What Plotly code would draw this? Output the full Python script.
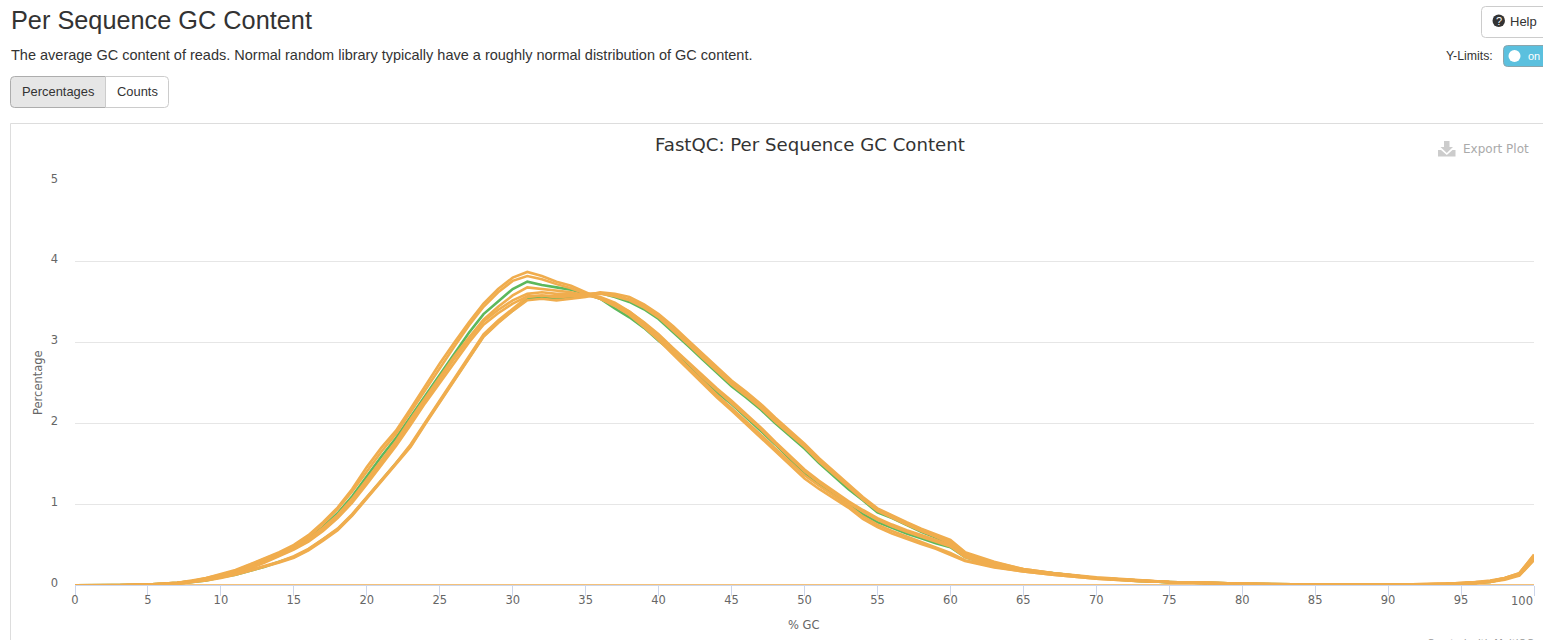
import plotly.graph_objects as go

GC = [0,3,5,7,8,9,10,11,12,13,14,15,16,17,18,19,20,21,22,23,24,25,26,27,28,29,30,31,32,33,34,35,36,37,38,39,40,41,42,43,44,45,46,47,48,49,50,51,52,53,54,55,56,57,58,59,60,61,62,63,65,67,70,73,75,78,80,85,90,92,94,95,96,97,98,99,100]

A1 = [0,0,.01,.03,.06,.09,.14,.19,.26,.33,.41,.50,.62,.78,.96,1.19,1.46,1.70,1.91,2.18,2.46,2.74,3.00,3.25,3.48,3.66,3.80,3.87,3.82,3.75,3.70,3.62,3.54,3.45,3.34,3.19,3.03,2.85,2.67,2.49,2.32,2.16,1.99,1.82,1.65,1.48,1.32,1.19,1.08,.96,.82,.72,.64,.57,.51,.45,.38,.30,.26,.22,.17,.13,.08,.05,.04,.02,.015,.005,.005,.01,.015,.02,.03,.04,.07,.12,.31]
A2 = [0,0,.01,.03,.05,.09,.13,.18,.25,.32,.40,.48,.60,.76,.94,1.16,1.41,1.65,1.87,2.14,2.41,2.69,2.95,3.21,3.44,3.62,3.76,3.82,3.78,3.72,3.67,3.60,3.54,3.46,3.36,3.21,3.05,2.88,2.70,2.52,2.35,2.19,2.03,1.86,1.69,1.52,1.36,1.23,1.11,.99,.85,.75,.67,.60,.54,.47,.40,.31,.27,.23,.17,.13,.08,.05,.04,.02,.015,.005,.005,.01,.015,.02,.03,.04,.08,.13,.33]
B1 = [0,0,.01,.03,.05,.08,.12,.17,.23,.30,.38,.46,.57,.71,.87,1.07,1.31,1.55,1.78,2.05,2.31,2.58,2.83,3.06,3.28,3.44,3.58,3.68,3.66,3.64,3.62,3.58,3.55,3.47,3.38,3.25,3.10,2.93,2.76,2.59,2.43,2.28,2.12,1.95,1.77,1.60,1.43,1.29,1.16,1.04,.93,.83,.75,.68,.62,.56,.50,.36,.30,.25,.19,.14,.09,.06,.04,.025,.02,.005,.005,.01,.02,.025,.03,.05,.08,.14,.35]
B2 = [0,0,.01,.02,.05,.08,.11,.16,.22,.29,.37,.45,.56,.69,.85,1.05,1.28,1.52,1.75,2.01,2.28,2.54,2.80,3.04,3.26,3.40,3.52,3.60,3.62,3.60,3.60,3.59,3.56,3.49,3.38,3.24,3.08,2.92,2.75,2.57,2.41,2.26,2.10,1.93,1.75,1.58,1.41,1.27,1.14,1.02,.91,.81,.73,.66,.60,.54,.48,.35,.29,.25,.18,.14,.09,.06,.04,.025,.02,.005,.005,.01,.015,.025,.03,.05,.09,.14,.34]
B3 = [0,0,.01,.02,.05,.07,.11,.15,.21,.28,.36,.44,.54,.67,.83,1.02,1.25,1.49,1.72,1.98,2.25,2.50,2.75,3.00,3.22,3.36,3.48,3.57,3.58,3.57,3.58,3.60,3.61,3.58,3.53,3.45,3.33,3.17,3.00,2.83,2.67,2.50,2.36,2.21,2.04,1.88,1.73,1.55,1.39,1.22,1.07,.94,.86,.77,.69,.62,.54,.40,.34,.28,.20,.15,.09,.06,.04,.03,.02,.01,.005,.01,.02,.03,.04,.05,.09,.15,.37]
C1 = [0,0,.005,.02,.04,.06,.09,.13,.18,.23,.28,.34,.43,.55,.68,.86,1.07,1.29,1.49,1.71,1.99,2.26,2.53,2.80,3.07,3.24,3.39,3.52,3.54,3.52,3.54,3.56,3.60,3.57,3.52,3.43,3.31,3.15,2.98,2.81,2.65,2.48,2.34,2.19,2.02,1.86,1.71,1.53,1.37,1.21,1.06,.92,.84,.75,.67,.60,.52,.38,.32,.27,.19,.15,.09,.06,.035,.03,.02,.01,.005,.01,.015,.02,.03,.05,.08,.13,.32]
C2 = [0,0,.005,.02,.04,.07,.10,.14,.19,.24,.29,.36,.45,.57,.70,.88,1.09,1.31,1.51,1.74,2.01,2.29,2.56,2.83,3.10,3.27,3.42,3.56,3.58,3.56,3.57,3.58,3.62,3.60,3.56,3.47,3.35,3.20,3.03,2.86,2.69,2.53,2.39,2.24,2.07,1.91,1.75,1.57,1.41,1.25,1.09,.95,.87,.78,.70,.63,.56,.41,.35,.29,.20,.15,.10,.06,.04,.03,.02,.01,.005,.01,.02,.03,.04,.06,.09,.15,.38]
G1 = [0,0,.01,.03,.05,.08,.12,.17,.24,.31,.39,.47,.58,.72,.89,1.10,1.35,1.59,1.82,2.08,2.34,2.60,2.86,3.12,3.35,3.51,3.66,3.75,3.71,3.68,3.65,3.60,3.54,3.42,3.31,3.18,3.02,2.88,2.71,2.54,2.38,2.24,2.08,1.91,1.74,1.56,1.38,1.24,1.11,.99,.88,.78,.71,.64,.58,.52,.47,.35,.29,.24,.18,.14,.09,.05,.04,.02,.015,.005,.005,.01,.015,.02,.03,.04,.08,.13,.33]
G2 = [0,0,.005,.02,.04,.06,.10,.13,.18,.23,.29,.35,.44,.56,.69,.87,1.08,1.30,1.50,1.72,2.00,2.27,2.54,2.81,3.08,3.25,3.40,3.54,3.56,3.54,3.55,3.57,3.61,3.56,3.50,3.41,3.29,3.13,2.96,2.79,2.63,2.46,2.32,2.17,2.00,1.84,1.69,1.51,1.35,1.19,1.05,.90,.83,.74,.66,.59,.51,.37,.31,.26,.19,.15,.09,.06,.035,.03,.02,.01,.005,.01,.015,.02,.03,.05,.08,.13,.32]
FLAT_X = [0, 100]
FLAT_Y = [0, 0]

GREEN_SERIES = [("Sample G1", G1), ("Sample G2", G2)]
ORANGE_SERIES = [("Sample A1", A1), ("Sample A2", A2), ("Sample B1", B1), ("Sample B2", B2),
                 ("Sample B3", B3), ("Sample C1", C1), ("Sample C2", C2)]
for _n, _s in GREEN_SERIES + ORANGE_SERIES:
    assert len(_s) == len(GC), (_n, len(_s), len(GC))

XTICKS = [0,5,10,15,20,25,30,35,40,45,50,55,60,65,70,75,80,85,90,95,100]
XTICKTEXT = ["0","5","10","15","20","25","30","35","40","45","50","55","60","65","70","75","80","85","90","95",""]
YTICKS = [0,1,2,3,4,5]

W, H = 1543, 640
ORANGE = "#f0ad4e"
GREEN = "#5cb85c"

def px(x): return x / W
def py(y): return 1 - y / H

fig = go.Figure()
for name, s in GREEN_SERIES:
    fig.add_trace(go.Scatter(x=GC, y=s, mode="lines", name=name, cliponaxis=False, line=dict(color=GREEN, width=2.6)))
fig.add_trace(go.Scatter(x=FLAT_X, y=FLAT_Y, mode="lines", name="Flat", cliponaxis=False, line=dict(color=ORANGE, width=2)))
for name, s in ORANGE_SERIES:
    fig.add_trace(go.Scatter(x=GC, y=s, mode="lines", name=name, cliponaxis=False, line=dict(color=ORANGE, width=2.6)))

def rr(x0, y0, x1, y1, r=4, left=True, right=True):
    X0, X1 = px(x0), px(x1)
    Y0, Y1 = py(y0), py(y1)
    rx, ry = r / W, r / H
    p = []
    if left:
        p.append(f"M{X0+rx},{Y0}")
    else:
        p.append(f"M{X0},{Y0}")
    if right:
        p.append(f"L{X1-rx},{Y0} Q{X1},{Y0} {X1},{Y0-ry} L{X1},{Y1+ry} Q{X1},{Y1} {X1-rx},{Y1}")
    else:
        p.append(f"L{X1},{Y0} L{X1},{Y1}")
    if left:
        p.append(f"L{X0+rx},{Y1} Q{X0},{Y1} {X0},{Y1+ry} L{X0},{Y0-ry} Q{X0},{Y0} {X0+rx},{Y0} Z")
    else:
        p.append(f"L{X0},{Y1} Z")
    return " ".join(p)

def poly(points):
    return "M" + " L".join(f"{px(a)},{py(b)}" for a, b in points) + " Z"

shapes = [
    dict(type="path", xref="paper", yref="paper", layer="below",
         path=f"M{px(10.5)},{py(660)} L{px(10.5)},{py(123.5)} L{px(1560)},{py(123.5)}",
         line=dict(color="#dddddd", width=1)),
    dict(type="path", xref="paper", yref="paper", path=rr(10.5, 76.5, 105.5, 107.5, right=False),
         fillcolor="#e6e6e6", line=dict(color="#adadad", width=1)),
    dict(type="path", xref="paper", yref="paper", path=rr(105.5, 76.5, 168.5, 107.5, left=False),
         fillcolor="#ffffff", line=dict(color="#cccccc", width=1)),
    dict(type="path", xref="paper", yref="paper", path=rr(1481.5, 6.5, 1560, 37.5),
         fillcolor="#ffffff", line=dict(color="#cccccc", width=1)),
    dict(type="circle", xref="paper", yref="paper", x0=px(1492.5), x1=px(1505), y0=py(27), y1=py(14.5),
         fillcolor="#333333", line=dict(width=0)),
    dict(type="path", xref="paper", yref="paper", path=rr(1503.5, 45.5, 1560, 66.5),
         fillcolor="#5bc0de", line=dict(color="#8aa5ad", width=1)),
    dict(type="circle", xref="paper", yref="paper", x0=px(1508.5), x1=px(1520.5), y0=py(62), y1=py(50),
         fillcolor="#ffffff", line=dict(width=0)),
    dict(type="path", xref="paper", yref="paper",
         path=poly([(1444, 141), (1449.5, 141), (1449.5, 147), (1453, 147), (1446.8, 153), (1440.5, 147), (1444, 147)]),
         fillcolor="#cccccc", line=dict(width=0)),
    dict(type="path", xref="paper", yref="paper",
         path=poly([(1438, 150), (1441, 150), (1446.8, 155), (1452.5, 150), (1455.5, 150), (1455.5, 156.5), (1438, 156.5)]),
         fillcolor="#cccccc", line=dict(width=0)),
]

SANS = "Liberation Sans"
CHART = "DejaVu Sans"
def note(text, x, y, size, color="#333333", family=SANS, xanchor="left", **kw):
    return dict(text=text, x=px(x), y=py(y), xref="paper", yref="paper", showarrow=False,
                xanchor=xanchor, yanchor="middle", font=dict(family=family, size=size, color=color),
                borderpad=0, **kw)

annotations = [
    note("Per Sequence GC Content", 9.5, 20.5, 25.3),
    note("The average GC content of reads. Normal random library typically have a roughly normal distribution of GC content.", 9.5, 55, 14.5),
    note("Percentages", 58, 91.5, 12.9, xanchor="center"),
    note("Counts", 137, 91.5, 12.9, xanchor="center"),
    note("?", 1498.7, 21, 11, color="#ffffff", xanchor="center"),
    note("Help", 1509, 21.5, 13),
    note("Y-Limits:", 1494, 56, 12.3, xanchor="right"),
    note("on", 1526.5, 56, 11, color="#ffffff"),
    note("FastQC: Per Sequence GC Content", 810, 144, 18.15, family=CHART, xanchor="center"),
    note("Export Plot", 1529.5, 148.5, 12, color="#aaaaaa", family=CHART, xanchor="right"),
    note("100", 1534, 601, 11.5, color="#666666", family=CHART, xanchor="right"),
    note("Created with MultiQC", 1534, 643, 10, color="#999999", family=CHART, xanchor="right"),
    note("% GC", 804, 624.5, 11.5, color="#666666", family=CHART, xanchor="center"),
    note("Percentage", 38, 383, 11.5, color="#666666", family=CHART, xanchor="center", textangle=-90),
]

fig.update_layout(
    width=W, height=H, margin=dict(l=0, r=0, t=0, b=0, pad=0, autoexpand=False),
    paper_bgcolor="white", plot_bgcolor="white", showlegend=False,
    shapes=shapes, annotations=annotations,
    font=dict(family=CHART, color="#666666", size=11.5),
    xaxis=dict(domain=[px(75), px(1534)], range=[0, 100], tickmode="array", tickvals=XTICKS, ticktext=XTICKTEXT,
               ticks="outside", ticklen=10, tickcolor="#ccd6eb", tickwidth=1, showline=True, linecolor="#ccd6eb",
               linewidth=1, showgrid=False, zeroline=False, tickangle=0, ticklabelstandoff=-6),
    yaxis=dict(domain=[py(585.3), py(180.5)], range=[0, 5], tickmode="array", tickvals=YTICKS,
               showgrid=True, gridcolor="#e6e6e6", gridwidth=1, zeroline=False, showline=False,
               ticks="", ticklabelstandoff=16, ticklabelshift=-2),
)

fig.write_html("out.html", config={"displayModeBar": False},
               post_script="document.body.style.margin='0';document.documentElement.style.overflow='hidden';")
